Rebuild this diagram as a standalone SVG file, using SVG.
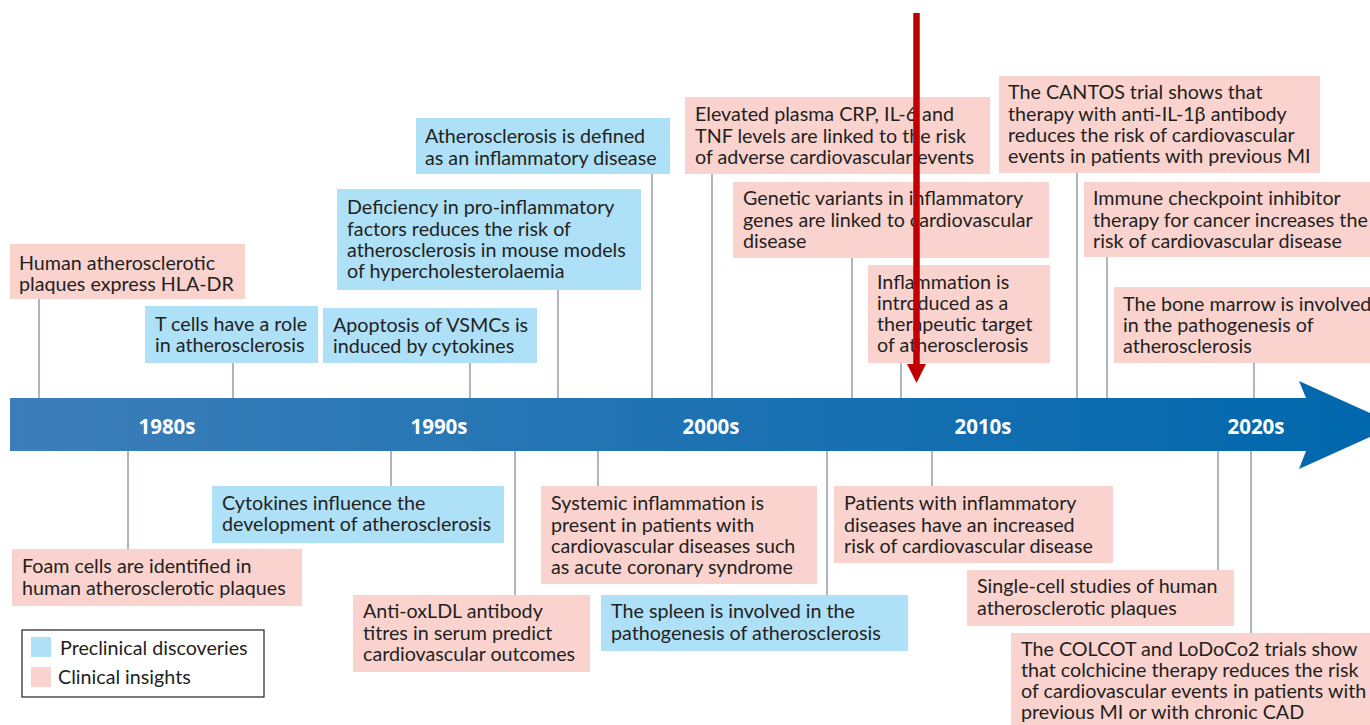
<svg xmlns="http://www.w3.org/2000/svg" width="1370" height="725" viewBox="0 0 1370 725">
<defs>
<linearGradient id="barGrad" gradientUnits="userSpaceOnUse" x1="10" y1="0" x2="1390" y2="0">
<stop offset="0" stop-color="#3c7eb9"/>
<stop offset="1" stop-color="#0067ac"/>
</linearGradient>
<style>
.pink{fill:#fad3cf}
.blue{fill:#aee0f8}
.t{font-family:Lato,"Open Sans","Liberation Sans",sans-serif;font-size:19.7px;fill:#231f20}
.dec{font-family:"Open Sans",Lato,"Liberation Sans",sans-serif;font-size:20.5px;font-weight:bold;fill:#ffffff;text-anchor:middle}
.c{stroke:#9ea3b0;stroke-width:1.6;fill:none}
</style>
</defs>
<rect width="1370" height="725" fill="#ffffff"/>

<g id="connectors">
<line class="c" x1="39" y1="299" x2="39" y2="398"/>
<line class="c" x1="233" y1="363" x2="233" y2="398"/>
<line class="c" x1="470" y1="363" x2="470" y2="398"/>
<line class="c" x1="558" y1="290" x2="558" y2="398"/>
<line class="c" x1="652" y1="174" x2="652" y2="398"/>
<line class="c" x1="712" y1="174" x2="712" y2="398"/>
<line class="c" x1="852" y1="258" x2="852" y2="398"/>
<line class="c" x1="901" y1="363" x2="901" y2="398"/>
<line class="c" x1="1077" y1="173" x2="1077" y2="398"/>
<line class="c" x1="1107" y1="257" x2="1107" y2="398"/>
<line class="c" x1="1254" y1="363" x2="1254" y2="398"/>
<line class="c" x1="128" y1="451" x2="128" y2="549"/>
<line class="c" x1="391" y1="451" x2="391" y2="486"/>
<line class="c" x1="515" y1="451" x2="515" y2="595"/>
<line class="c" x1="598" y1="451" x2="598" y2="486"/>
<line class="c" x1="827" y1="451" x2="827" y2="595"/>
<line class="c" x1="932" y1="451" x2="932" y2="486"/>
<line class="c" x1="1218" y1="451" x2="1218" y2="570"/>
<line class="c" x1="1251" y1="451" x2="1251" y2="633"/>
</g>

<g id="timeline">
<path d="M10,398 H1306 L1299,381 L1397,425 L1299,469 L1306,451 H10 Z" fill="url(#barGrad)"/>
<text class="dec" x="167" y="434">1980s</text>
<text class="dec" x="439" y="434">1990s</text>
<text class="dec" x="711" y="434">2000s</text>
<text class="dec" x="983" y="434">2010s</text>
<text class="dec" x="1256" y="434">2020s</text>
</g>

<g id="n1"><rect class="pink" x="10" y="244" width="235" height="55"/>
<text class="t" x="19"><tspan x="19" y="270">Human atherosclerotic</tspan><tspan x="19" y="291">plaques express HLA-DR</tspan></text></g>
<g id="n2"><rect class="blue" x="145" y="306" width="173" height="57"/>
<text class="t"><tspan x="155" y="331">T cells have a role</tspan><tspan x="155" y="352">in atherosclerosis</tspan></text></g>
<g id="n3"><rect class="blue" x="323" y="308" width="214" height="55"/>
<text class="t"><tspan x="333" y="332">Apoptosis of VSMCs is</tspan><tspan x="333" y="353">induced by cytokines</tspan></text></g>
<g id="n4"><rect class="blue" x="337" y="189" width="304" height="101"/>
<text class="t"><tspan x="347" y="214">Deficiency in pro-inflammatory</tspan><tspan x="347" y="236">factors reduces the risk of</tspan><tspan x="347" y="257">atherosclerosis in mouse models</tspan><tspan x="347" y="278">of hypercholesterolaemia</tspan></text></g>
<g id="n5"><rect class="blue" x="416" y="118" width="254" height="56"/>
<text class="t"><tspan x="425" y="143">Atherosclerosis is defined</tspan><tspan x="425" y="165">as an inflammatory disease</tspan></text></g>
<g id="n6"><rect class="pink" x="685" y="97" width="305" height="77"/>
<text class="t"><tspan x="695" y="121">Elevated plasma CRP, IL-6 and</tspan><tspan x="695" y="143">TNF levels are linked to the risk</tspan><tspan x="695" y="164">of adverse cardiovascular events</tspan></text></g>
<g id="n7"><rect class="pink" x="733" y="182" width="316" height="76"/>
<text class="t"><tspan x="743" y="205">Genetic variants in inflammatory</tspan><tspan x="743" y="227">genes are linked to cardiovascular</tspan><tspan x="743" y="248">disease</tspan></text></g>
<g id="n8"><rect class="pink" x="999" y="76" width="321" height="97"/>
<text class="t"><tspan x="1008" y="99">The CANTOS trial shows that</tspan><tspan x="1008" y="121">therapy with anti-IL-1β antibody</tspan><tspan x="1008" y="142">reduces the risk of cardiovascular</tspan><tspan x="1008" y="163">events in patients with previous MI</tspan></text></g>
<g id="n9"><rect class="pink" x="1084" y="182" width="290" height="75"/>
<text class="t"><tspan x="1093" y="205">Immune checkpoint inhibitor</tspan><tspan x="1093" y="227">therapy for cancer increases the</tspan><tspan x="1093" y="248">risk of cardiovascular disease</tspan></text></g>
<g id="n10"><rect class="pink" x="868" y="265" width="182" height="98"/>
<text class="t"><tspan x="877" y="289">Inflammation is</tspan><tspan x="877" y="310">introduced as a</tspan><tspan x="877" y="331">therapeutic target</tspan><tspan x="877" y="352">of atherosclerosis</tspan></text></g>
<g id="n11"><rect class="pink" x="1114" y="287" width="260" height="76"/>
<text class="t"><tspan x="1123" y="311">The bone marrow is involved</tspan><tspan x="1123" y="332">in the pathogenesis of</tspan><tspan x="1123" y="353">atherosclerosis</tspan></text></g>

<g id="n12"><rect class="pink" x="12" y="549" width="290" height="57"/>
<text class="t"><tspan x="22" y="573">Foam cells are identified in</tspan><tspan x="22" y="595">human atherosclerotic plaques</tspan></text></g>
<g id="n13"><rect class="blue" x="212" y="486" width="292" height="57"/>
<text class="t"><tspan x="222" y="510">Cytokines influence the</tspan><tspan x="222" y="531">development of atherosclerosis</tspan></text></g>
<g id="n14"><rect class="pink" x="353" y="595" width="237" height="77"/>
<text class="t"><tspan x="363" y="618">Anti-oxLDL antibody</tspan><tspan x="363" y="640">titres in serum predict</tspan><tspan x="363" y="661">cardiovascular outcomes</tspan></text></g>
<g id="n15"><rect class="pink" x="541" y="486" width="276" height="98"/>
<text class="t"><tspan x="551" y="510">Systemic inflammation is</tspan><tspan x="551" y="532">present in patients with</tspan><tspan x="551" y="553">cardiovascular diseases such</tspan><tspan x="551" y="574">as acute coronary syndrome</tspan></text></g>
<g id="n16"><rect class="blue" x="601" y="595" width="307" height="56"/>
<text class="t"><tspan x="611" y="618">The spleen is involved in the</tspan><tspan x="611" y="640">pathogenesis of atherosclerosis</tspan></text></g>
<g id="n17"><rect class="pink" x="834" y="486" width="279" height="77"/>
<text class="t"><tspan x="844" y="510">Patients with inflammatory</tspan><tspan x="844" y="532">diseases have an increased</tspan><tspan x="844" y="553">risk of cardiovascular disease</tspan></text></g>
<g id="n18"><rect class="pink" x="967" y="570" width="267" height="56"/>
<text class="t"><tspan x="977" y="593">Single-cell studies of human</tspan><tspan x="977" y="615">atherosclerotic plaques</tspan></text></g>
<g id="n19"><rect class="pink" x="1011" y="633" width="363" height="95"/>
<text class="t"><tspan x="1021" y="656">The COLCOT and LoDoCo2 trials show</tspan><tspan x="1021" y="677">that colchicine therapy reduces the risk</tspan><tspan x="1021" y="698">of cardiovascular events in patients with</tspan><tspan x="1021" y="719">previous MI or with chronic CAD</tspan></text></g>

<g id="legend">
<rect x="22" y="630" width="242" height="67" fill="#ffffff" stroke="#231f20" stroke-width="1.2"/>
<rect class="blue" x="31" y="637" width="20" height="20"/>
<text class="t" x="60" y="655">Preclinical discoveries</text>
<rect class="pink" x="31" y="667" width="20" height="20"/>
<text class="t" x="58" y="684">Clinical insights</text>
</g>

<g id="red-arrow">
<line x1="916.5" y1="13" x2="916.5" y2="366" stroke="#c00000" stroke-width="6.5"/>
<polygon points="907,364 926,364 916.5,383" fill="#c00000"/>
</g>
</svg>
